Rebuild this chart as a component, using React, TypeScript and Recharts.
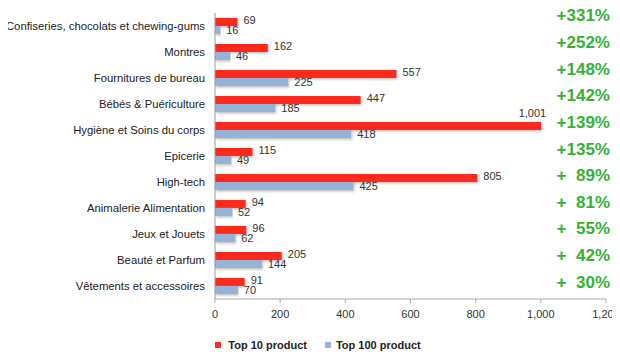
import { BarChart, Bar, XAxis, YAxis, Legend, LabelList } from "recharts";

const categories = [
    "Confiseries, chocolats et chewing-gums",
    "Montres",
    "Fournitures de bureau",
    "Bébés & Puériculture",
    "Hygiène et Soins du corps",
    "Epicerie",
    "High-tech",
    "Animalerie Alimentation",
    "Jeux et Jouets",
    "Beauté et Parfum",
    "Vêtements et accessoires",
];
const top10 = [69, 162, 557, 447, 1001, 115, 805, 94, 96, 205, 91];
const top100 = [16, 46, 225, 185, 418, 49, 425, 52, 62, 144, 70];
const growth = ["+331%", "+252%", "+148%", "+142%", "+139%", "+135%", "+  89%", "+  81%", "+  55%", "+  42%", "+  30%"];
const xTicks = [0, 200, 400, 600, 800, 1000, 1200];

const data = categories.map((name, i) => ({
    name,
    top10: top10[i],
    top100: top100[i],
    growth: growth[i],
}));

const FONT = "'Liberation Sans', Arial, Helvetica, sans-serif";
const RED = "#ff2a1f";
const BLUE = "#95b3d7";
const GREEN = "#35b234";

const fmt = (v: number) => v.toLocaleString("en-US");

const CategoryTick = ({ x, y, payload }: any) => (
    <text x={x} y={y} dy={4} textAnchor="end" fill="#222" fontSize={11.3} fontFamily={FONT}>
        {payload.value}
    </text>
);

const GrowthTick = ({ x, y, payload }: any) => (
    <text x={x + 4} y={y} dy={6} textAnchor="end" fill={GREEN} fontSize={17} fontWeight="bold" fontFamily={FONT} style={{ whiteSpace: "pre" }}>
        {payload.value}
    </text>
);

const RedLabel = ({ x, y, width, height, value }: any) => {
    if (value >= 1000) {
        return (
            <text x={x + width + 5} y={y - 5} textAnchor="end" fontSize={11} fill="#333" fontFamily={FONT}>{fmt(value)}</text>
        );
    }
    return (
        <text x={x + width + 6} y={y + height / 2} dy={2} fontSize={11} fill="#333" fontFamily={FONT}>{fmt(value)}</text>
    );
};

const BlueLabel = ({ x, y, width, height, value }: any) => (
    <text x={x + width + 6} y={y + height / 2} dy={4} fontSize={11} fill="#333" fontFamily={FONT}>{fmt(value)}</text>
);

const LegendContent = () => (
    <div style={{ height: 34, display: "flex", justifyContent: "center", gap: 18, paddingLeft: 30, paddingTop: 5, boxSizing: "border-box", fontFamily: FONT, fontSize: 11, fontWeight: "bold", color: "#222" }}>
        <span style={{ display: "flex", alignItems: "center", gap: 7 }}>
            <span style={{ width: 6, height: 6, background: RED, display: "inline-block" }} />
            Top 10 product
        </span>
        <span style={{ display: "flex", alignItems: "center", gap: 5 }}>
            <span style={{ width: 6, height: 6, background: BLUE, display: "inline-block" }} />
            Top 100 product
        </span>
    </div>
);

const App = () => {
    return (
        <div style={{ width: 620, height: 359, margin: -8 }}>
            <BarChart
                width={620}
                height={359}
                data={data}
                layout="vertical"
                margin={{ top: 13, right: 14, bottom: 0, left: 0 }}
                barCategoryGap="19%"
                barGap={0}
            >
                <defs>
                    <filter id="barShadow" x="-5%" y="-30%" width="110%" height="180%">
                        <feDropShadow dx="1" dy="1.5" stdDeviation="0.8" floodColor="#000" floodOpacity="0.25" />
                    </filter>
                </defs>
                <XAxis
                    type="number"
                    domain={[0, 1200]}
                    ticks={xTicks}
                    tickFormatter={fmt}
                    height={26}
                    stroke="#aaa"
                    tickSize={4}
                    tickMargin={7}
                    tick={{ fill: "#333", fontSize: 11, fontFamily: FONT }}
                />
                <YAxis
                    yAxisId="main"
                    type="category"
                    dataKey="name"
                    width={215}
                    stroke="#999"
                    tickLine={false}
                    tickMargin={4}
                    tick={<CategoryTick />}
                />
                <YAxis
                    yAxisId="growth"
                    type="category"
                    dataKey="growth"
                    orientation="right"
                    mirror
                    width={1}
                    axisLine={false}
                    tickLine={false}
                    tickSize={0}
                    tickMargin={0}
                    interval={0}
                    padding={{ top: -11, bottom: 4 }}
                    tick={<GrowthTick />}
                />
                <Bar yAxisId="main" dataKey="top10" name="Top 10 product" fill={RED} filter="url(#barShadow)" isAnimationActive={false}>
                    <LabelList dataKey="top10" content={<RedLabel />} />
                </Bar>
                <Bar yAxisId="main" dataKey="top100" name="Top 100 product" fill={BLUE} filter="url(#barShadow)" isAnimationActive={false}>
                    <LabelList dataKey="top100" content={<BlueLabel />} />
                </Bar>
                <Legend verticalAlign="bottom" content={<LegendContent />} />
            </BarChart>
        </div>
    );
};

export default App;
